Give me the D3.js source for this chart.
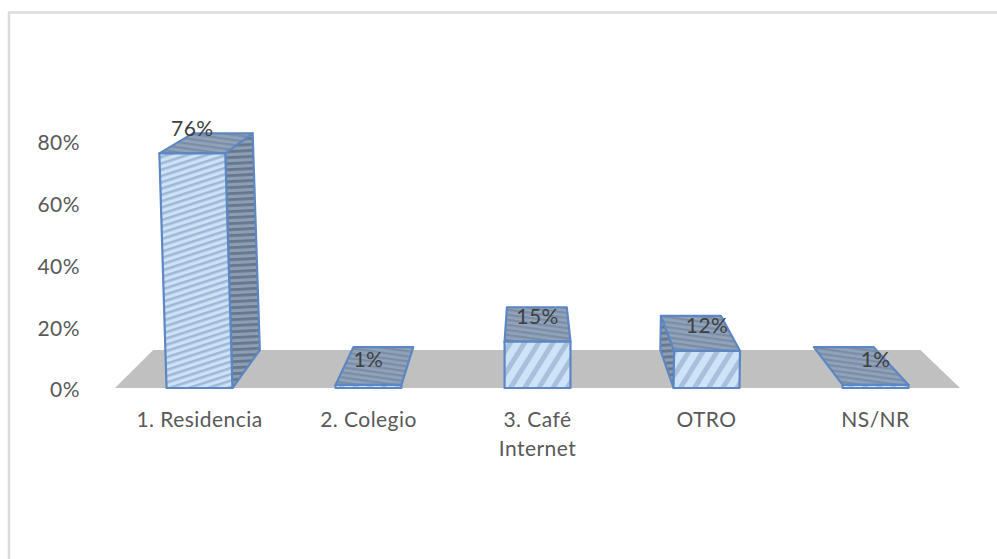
<!DOCTYPE html>
<html><head><meta charset="utf-8">
<style>html,body{margin:0;padding:0;background:#fff}svg{display:block}text{font-family:Lato,"Open Sans",sans-serif;letter-spacing:0.45px}</style>
<script src="https://cdn.jsdelivr.net/npm/d3@7/dist/d3.min.js"></script>
</head><body><svg id="c" width="997" height="559"></svg>
<script>
const categories = [["1. Residencia"],["2. Colegio"],["3. Café","Internet"],["OTRO"],["NS/NR"]];
const values = [76,1,15,12,1];
const ticks = [0,20,40,60,80];

const svg = d3.select("#c");
const defs = svg.append("defs");
function pat(id, base, stripe, angle, gap, sw){
  const p = defs.append("pattern").attr("id",id).attr("patternUnits","userSpaceOnUse")
    .attr("width",gap).attr("height",gap).attr("patternTransform",`rotate(${angle})`);
  p.append("rect").attr("width",gap).attr("height",gap).attr("fill",base);
  p.append("rect").attr("width",gap).attr("height",sw).attr("fill",stripe);
}
pat("frontShallow","#cde2f7","#9fb8d6",-18,6,2.6);
pat("frontSteep","#cfe3f8","#a9c0dc",-58,12,5);
pat("topP","#8fa3bc","#7c8ca3",8,5,2.2);
pat("sideP","#8c9eb5","#66768b",-3,6,2.8);
const soft = defs.append("filter").attr("id","soft").attr("x","-5%").attr("y","-5%").attr("width","110%").attr("height","110%");
soft.append("feGaussianBlur").attr("stdDeviation",0.6);

const idx = categories.map((_,i)=>i);
const x = d3.scaleBand().domain(idx).range([115,960]).paddingInner(0.61).paddingOuter(0.305);
const y = d3.scaleLinear().domain([0,80]).range([388,141]);
const yBack = d3.scaleLinear().domain([0,80]).range([350,122]);
const xv = 530, k = 0.092, lean = 0.000286;
// projected point: px = front x, d = depth (0 front, 1 back), v = value, c = bar centre that sets the lean
function P(px, d, v, c){
  const gx = px + d*k*(xv-px);
  const X = gx + ((c===undefined?gx:c)-xv)*v*lean;
  const Y = d===0 ? y(v) : yBack(v);
  return [X,Y];
}
const line = pts => "M"+pts.map(p=>p.join(",")).join("L")+"Z";

// chart frame
svg.append("path").attr("d","M9,559V12.5H997").attr("fill","none").attr("stroke","#dcdcdc").attr("stroke-width",2.5);

const plot = svg.append("g").attr("filter","url(#soft)");
// floor
plot.append("path").attr("d",line([P(115,0,0),P(960,0,0),P(960,1,0),P(115,1,0)])).attr("fill","#c0c0c0");

// tick labels
svg.selectAll(".tick").data(ticks).join("text").attr("class","tick")
  .attr("x",80).attr("y",t=>y(t)+2).attr("dy","0.35em").attr("text-anchor","end")
  .attr("font-size",21).attr("fill","#595959").text(t=>t+"%");

// bars
const stroke = "#5b87c2";
idx.forEach(i=>{
  const v = values[i], l = x(i), r = l + x.bandwidth();
  const g = plot.append("g").attr("stroke",stroke).attr("stroke-width",2.2).attr("stroke-linejoin","round");
  const c = (l+r)/2;
  if (c < xv - 20 && v > 5) g.append("path").attr("fill","url(#sideP)")
    .attr("d",line([P(r,0,0,c),P(r,1,0,c),P(r,1,v,c),P(r,0,v,c)]));
  if (c > xv + 20 && v > 5) g.append("path").attr("fill","url(#sideP)")
    .attr("d",line([P(l,0,0,c),P(l,1,0,c),P(l,1,v,c),P(l,0,v,c)]));
  g.append("path").attr("fill","url(#topP)")
    .attr("d",line([P(l,0,v,c),P(r,0,v,c),P(r,1,v,c),P(l,1,v,c)]));
  g.append("path").attr("fill",v>40?"url(#frontShallow)":"url(#frontSteep)")
    .attr("d",line([P(l,0,0,c),P(r,0,0,c),P(r,0,v,c),P(l,0,v,c)]));
});

// data labels
idx.forEach(i=>{
  const c = x(i)+x.bandwidth()/2;
  svg.append("text").attr("x",P(c,0,values[i],c)[0]).attr("y",y(values[i])-25).attr("dy","0.35em")
    .attr("text-anchor","middle").attr("font-size",21).attr("fill","#404040").text(values[i]+"%");
});

// category labels
idx.forEach(i=>{
  const c = x(i)+x.bandwidth()/2;
  categories[i].forEach((s,j)=>{
    svg.append("text").attr("x",c).attr("y",420+j*29).attr("dy","0.35em")
      .attr("text-anchor","middle").attr("font-size",21).attr("fill","#595959").text(s);
  });
});
</script></body></html>
